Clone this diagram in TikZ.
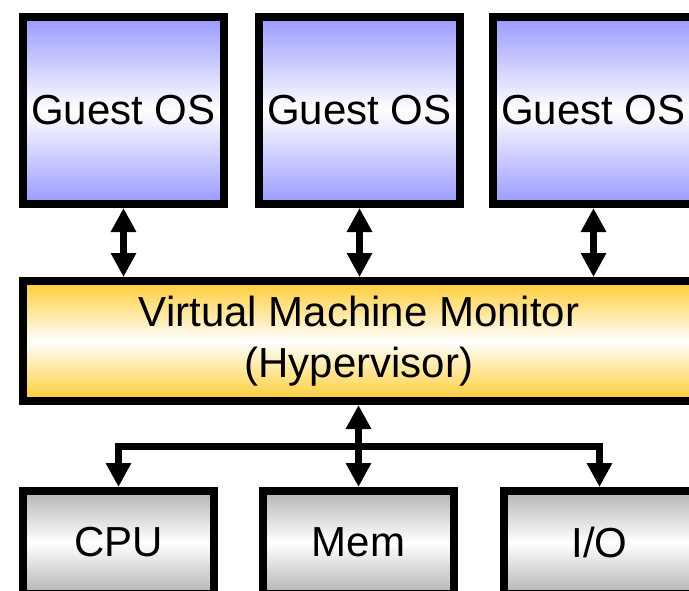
\documentclass[tikz,border=0pt]{standalone}
\usepackage{fontspec}
\setmainfont{Liberation Sans}
\usetikzlibrary{arrows.meta}
\definecolor{guestblue}{RGB}{153,153,255}
\definecolor{vmmgold}{RGB}{255,204,51}
\definecolor{hwgray}{RGB}{180,180,180}
\begin{document}
\begin{tikzpicture}[x=1pt,y=-1pt,
  box/.style={draw=black, line width=8pt, outer sep=4pt, inner sep=0pt,
    align=center, font=\fontsize{42}{51.5}\selectfont},
  guest/.style={box, minimum width=201pt, minimum height=187pt,
    top color=guestblue, bottom color=guestblue, middle color=white},
  vmmbox/.style={box, minimum width=672pt, minimum height=120pt,
    top color=vmmgold, bottom color=vmmgold, middle color=white},
  hwbox/.style={box, minimum width=191pt, minimum height=103pt,
    top color=hwgray, bottom color=hwgray, middle color=white},
  link/.style={line width=7pt,
    {Triangle[width=24pt,length=24pt]}-{Triangle[width=24pt,length=24pt]}},
  ]
\useasboundingbox (0,0) rectangle (689,590);
\clip (0,0) rectangle (689,590);

% guest operating systems
\node[guest] (g1) at (123.5,110.5) {Guest OS};
\node[guest] (g2) at (359.5,110.5) {Guest OS};
\node[guest] (g3) at (593.5,110.5) {Guest OS};

% hypervisor layer
\node[vmmbox] (vmm) at (359,341) {Virtual Machine Monitor\\(Hypervisor)};

% hardware resources
\node[hwbox] (cpu) at (118.5,542.5) {CPU};
\node[hwbox] (mem) at (358.5,542.5) {Mem};
\node[hwbox] (io)  at (599.5,542.5) {I/O};

% guest <-> hypervisor
\draw[link] (g1.south) -- (g1.south |- vmm.north);
\draw[link] (g2.south) -- (g2.south |- vmm.north);
\draw[link] (g3.south) -- (g3.south |- vmm.north);

% hypervisor <-> hardware bus
\coordinate (bus) at (359,446);
\draw[link] (mem.north |- vmm.south) -- (mem.north);
\draw[link] (cpu.north) |- (bus) -| (io.north);
\end{tikzpicture}
\end{document}
